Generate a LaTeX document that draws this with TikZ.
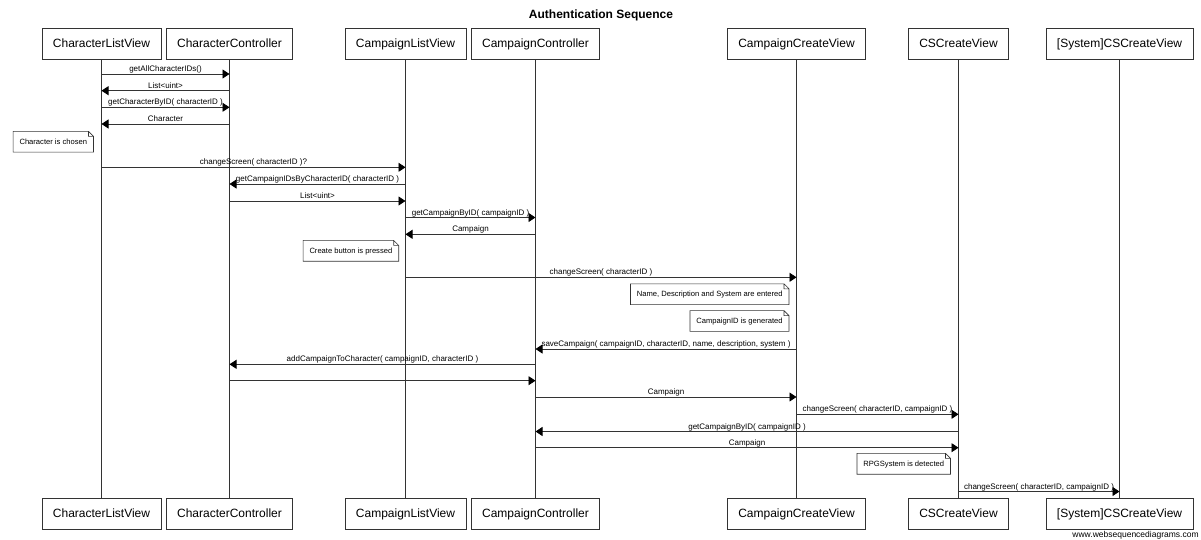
\documentclass[tikz,border=0pt]{standalone}
\usepackage{fontspec}
\setmainfont{Liberation Sans}
\usetikzlibrary{arrows.meta,positioning}
\definecolor{ink}{rgb}{0.2,0.2,0.2}

% outline of a note with a folded top right corner
\newcommand{\dogear}[1]{%
  \draw[ink,line width=0.6pt] (#1.south west) -- (#1.south east) -- ([yshift=-5pt]#1.north east)
    -- ([xshift=-5pt]#1.north east) -- (#1.north west) -- cycle
    ([xshift=-5pt]#1.north east) |- ([yshift=-5pt]#1.north east);}

\begin{document}
\begin{tikzpicture}[x=1pt,y=1pt,line width=0.8pt]
	  \tikzstyle{actor}=[rectangle,draw=ink,fill=white,inner xsep=11pt,minimum height=31pt,text height=9pt,text depth=2.5pt,font=\fontsize{12}{14}\selectfont]
	  \tikzstyle{lifeline}=[ink,line width=0.8pt]
	  \tikzstyle{msg}=[ink,-{Triangle[length=7pt,width=9pt,color=black]}]
	  \tikzstyle{msglabel}=[midway,above,inner sep=0.5pt,text depth=1.5pt,text=black,font=\fontsize{8}{10}\selectfont]
	  \tikzstyle{notebox}=[rectangle,anchor=east,inner xsep=6pt,minimum height=20pt,text height=6pt,text depth=1.5pt,font=\fontsize{7.6}{9}\selectfont]

	  \useasboundingbox (0,0) rectangle (1201,-540);

	  \node[font=\bfseries\fontsize{12}{14}\selectfont] (title) at (601,-15) {Authentication Sequence};

	  % participants
	  \node[actor] (CLV) at (101.5,-44) {CharacterListView};
	  \node[actor] (CC) at (229.5,-44) {CharacterController};
	  \node[actor] (CaLV) at (405.5,-44) {CampaignListView};
	  \node[actor] (CaC) at (535.5,-44) {CampaignController};
	  \node[actor] (CCV) at (796.5,-44) {CampaignCreateView};
	  \node[actor] (CSV) at (958.5,-44) {CSCreateView};
	  \node[actor] (SCSV) at (1119.5,-44) {[System]CSCreateView};

	  \node[actor] (CLVb) [below=438pt of CLV] {CharacterListView};
	  \node[actor] (CCb) [below=438pt of CC] {CharacterController};
	  \node[actor] (CaLVb) [below=438pt of CaLV] {CampaignListView};
	  \node[actor] (CaCb) [below=438pt of CaC] {CampaignController};
	  \node[actor] (CCVb) [below=438pt of CCV] {CampaignCreateView};
	  \node[actor] (CSVb) [below=438pt of CSV] {CSCreateView};
	  \node[actor] (SCSVb) [below=438pt of SCSV] {[System]CSCreateView};

	  \draw[lifeline] (CLV.south) -- (CLVb.north);
	  \draw[lifeline] (CC.south) -- (CCb.north);
	  \draw[lifeline] (CaLV.south) -- (CaLVb.north);
	  \draw[lifeline] (CaC.south) -- (CaCb.north);
	  \draw[lifeline] (CCV.south) -- (CCVb.north);
	  \draw[lifeline] (CSV.south) -- (CSVb.north);
	  \draw[lifeline] (SCSV.south) -- (SCSVb.north);

	  % messages
	  \draw[msg] (CLV |- 0,-74) -- (CC |- 0,-74) node[msglabel] {getAllCharacterIDs()};
	  \draw[msg] (CC |- 0,-90.7) -- (CLV |- 0,-90.7) node[msglabel] {List<uint>};
	  \draw[msg] (CLV |- 0,-107.3) -- (CC |- 0,-107.3) node[msglabel] {getCharacterByID( characterID )};
	  \draw[msg] (CC |- 0,-124) -- (CLV |- 0,-124) node[msglabel] {Character};

	  \draw[msg] (CLV |- 0,-167.3) -- (CaLV |- 0,-167.3) node[msglabel] {changeScreen( characterID )?};
	  \draw[msg] (CaLV |- 0,-184) -- (CC |- 0,-184) node[msglabel] {getCampaignIDsByCharacterID( characterID )};
	  \draw[msg] (CC |- 0,-201) -- (CaLV |- 0,-201) node[msglabel] {List<uint>};
	  \draw[msg] (CaLV |- 0,-217.5) -- (CaC |- 0,-217.5) node[msglabel] {getCampaignByID( campaignID )};
	  \draw[msg] (CaC |- 0,-234.3) -- (CaLV |- 0,-234.3) node[msglabel] {Campaign};

	  \draw[msg] (CaLV |- 0,-277.3) -- (CCV |- 0,-277.3) node[msglabel] {changeScreen( characterID )};
	  \draw[msg] (CCV |- 0,-349) -- (CaC |- 0,-349) node[msglabel] {saveCampaign( campaignID, characterID, name, description, system )};
	  \draw[msg] (CaC |- 0,-364.3) -- (CC |- 0,-364.3) node[msglabel] {addCampaignToCharacter( campaignID, characterID )};
	  \draw[msg] (CC |- 0,-380.7) -- (CaC |- 0,-380.7);
	  \draw[msg] (CaC |- 0,-397) -- (CCV |- 0,-397) node[msglabel] {Campaign};
	  \draw[msg] (CCV |- 0,-414.3) -- (CSV |- 0,-414.3) node[msglabel] {changeScreen( characterID, campaignID )};
	  \draw[msg] (CSV |- 0,-431.5) -- (CaC |- 0,-431.5) node[msglabel] {getCampaignByID( campaignID )};
	  \draw[msg] (CaC |- 0,-447.7) -- (CSV |- 0,-447.7) node[msglabel] {Campaign};
	  \draw[msg] (CSV |- 0,-491.5) -- (SCSV |- 0,-491.5) node[msglabel] {changeScreen( characterID, campaignID )};

	  % notes
	  \node[notebox] (chosen) at (93.5,-141.8) {Character is chosen};
	  \dogear{chosen}
	  \node[notebox] (pressed) at (398.7,-250.8) {Create button is pressed};
	  \dogear{pressed}
	  \node[notebox] (entered) at (789,-294.2) {Name, Description and System are entered};
	  \dogear{entered}
	  \node[notebox] (generated) at (789,-321) {CampaignID is generated};
	  \dogear{generated}
	  \node[notebox] (detected) at (950.5,-463.8) {RPGSystem is detected};
	  \dogear{detected}

	  \node[anchor=base east,inner sep=0pt,font=\fontsize{8.5}{10}\selectfont] (footer) at (1199,-537) {www.websequencediagrams.com};
	\end{tikzpicture}
\end{document}
